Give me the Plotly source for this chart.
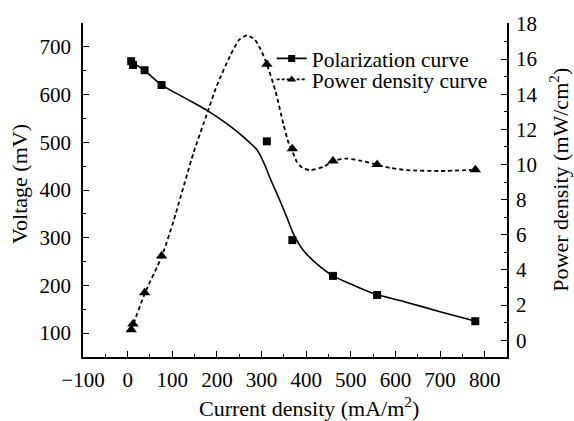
import plotly.graph_objects as go

# Measured data points
current = [8, 12, 38, 76, 312, 369, 460, 559, 779]
voltage = [670, 662, 651, 620, 502, 295, 220, 180, 125]
power = [0.6, 0.93, 2.7, 4.8, 15.7, 10.9, 10.2, 10.0, 9.7]

# Fitted curves
fit_current_v = [7, 38, 75, 130, 178, 222, 260, 275, 290, 297, 312, 319, 342, 357, 372, 394, 424, 458, 500, 551,
                 620, 700, 780]
fit_voltage = [670, 650, 621, 592, 567, 539, 511, 498, 484, 473, 442, 425, 376, 342, 307, 273, 245, 221, 203, 183,
               166, 145, 125]

fit_current_p = [8, 13, 39, 77, 103, 148, 178, 200, 230, 250, 268, 285, 297, 312, 331, 349, 361, 370, 379, 392,
                 409, 439, 460, 491, 525, 557, 590, 626, 700, 780]
fit_power = [0.6, 0.93, 2.7, 4.8, 6.8, 10.7, 12.9, 14.5, 16.2, 17.1, 17.35, 17.1, 16.6, 15.7, 14.2, 12.3, 11.2, 10.7,
             10.15, 9.8, 9.68, 9.87, 10.2, 10.34, 10.2, 10.0, 9.8, 9.68, 9.63, 9.7]

x_title = "Current density (mA/m<sup>2</sup>)"
y_title = "Voltage (mV)"
y2_title = "Power density (mW/cm<sup>2</sup>)"

FONT = "Times New Roman, Liberation Serif, serif"

fig = go.Figure()

fig.add_trace(go.Scatter(x=fit_current_v, y=fit_voltage, mode="lines",
                         line=dict(color="black", width=1.6, shape="spline", smoothing=0.9),
                         showlegend=False, hoverinfo="skip"))
fig.add_trace(go.Scatter(x=current, y=voltage, mode="markers",
                         marker=dict(symbol="square", size=8, color="black"),
                         showlegend=False))
fig.add_trace(go.Scatter(x=fit_current_p, y=fit_power, mode="lines", yaxis="y2",
                         line=dict(color="black", width=1.8, dash="4px,3px", shape="spline", smoothing=0.6),
                         showlegend=False, hoverinfo="skip"))
fig.add_trace(go.Scatter(x=current, y=power, mode="markers", yaxis="y2",
                         marker=dict(symbol="triangle-up", size=10, color="black"),
                         showlegend=False))

# Legend entries
fig.add_trace(go.Scatter(x=[None], y=[None], mode="lines+markers", name="Polarization curve",
                         line=dict(color="black", width=1.6),
                         marker=dict(symbol="square", size=7, color="black"), legend="legend"))
fig.add_trace(go.Scatter(x=[None], y=[None], mode="lines+markers", name="Power density curve",
                         line=dict(color="black", width=1.6, dash="3px,2px"),
                         marker=dict(symbol="triangle-up", size=8, color="black"), legend="legend2"))

axis_common = dict(showline=True, linecolor="black", linewidth=1.5, ticks="inside", ticklen=6,
                   tickwidth=1.2, tickcolor="black", showgrid=False, zeroline=False,
                   tickfont=dict(family=FONT, size=21, color="black"))

legend_common = dict(xanchor="left", yanchor="middle", bgcolor="rgba(0,0,0,0)",
                     font=dict(family=FONT, size=21.5, color="black"), itemwidth=30)

title_font = dict(family=FONT, size=22, color="black")

fig.update_layout(
    width=574, height=421,
    margin=dict(l=83, r=67, t=19, b=64),
    paper_bgcolor="white", plot_bgcolor="white",
    font=dict(family=FONT, size=20, color="black"),
    xaxis=dict(range=[-100, 850], dtick=100, tick0=0, ticklabelstandoff=3,
               minor=dict(dtick=50, ticks="inside", ticklen=3, tickcolor="black"),
               **axis_common),
    yaxis=dict(range=[50, 750], dtick=100, tick0=0, ticklabelstandoff=6,
               minor=dict(dtick=50, ticks="inside", ticklen=3, tickcolor="black"),
               **axis_common),
    yaxis2=dict(range=[-0.95, 18.05], dtick=2, tick0=0, overlaying="y", side="right", ticklabelstandoff=3,
                minor=dict(dtick=1, ticks="inside", ticklen=3, tickcolor="black"),
                **axis_common),
    legend=dict(x=0.445, y=0.894, **legend_common),
    legend2=dict(x=0.445, y=0.831, **legend_common),
    showlegend=True,
    annotations=[
        dict(text=x_title, xref="paper", yref="paper", x=0.534, y=-0.151, xanchor="center", yanchor="middle",
             showarrow=False, font=title_font),
        dict(text=y_title, xref="paper", yref="paper", x=-0.1486, y=0.518, xanchor="center", yanchor="middle",
             textangle=-90, showarrow=False, font=title_font),
        dict(text=y2_title, xref="paper", yref="paper", x=1.122, y=0.530, xanchor="center", yanchor="middle",
             textangle=-90, showarrow=False, font=title_font),
    ],
)

fig.write_html("out.html")
